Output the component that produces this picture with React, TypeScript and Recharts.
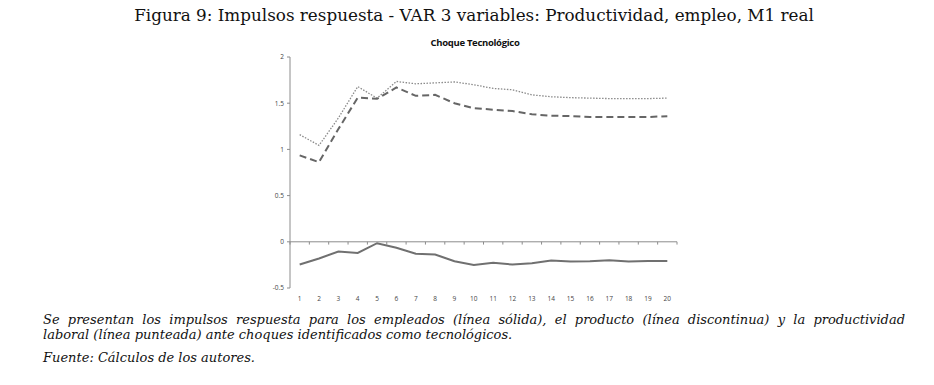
import { LineChart, Line, XAxis, YAxis, ReferenceLine } from "recharts";

const periods = [1, 2, 3, 4, 5, 6, 7, 8, 9, 10, 11, 12, 13, 14, 15, 16, 17, 18, 19, 20];
const empleo = [-0.246, -0.18, -0.105, -0.12, -0.015, -0.065, -0.13, -0.137, -0.21, -0.25, -0.228, -0.246, -0.232, -0.203, -0.213, -0.21, -0.2, -0.213, -0.207, -0.207];
const producto = [0.935, 0.862, 1.22, 1.56, 1.547, 1.67, 1.58, 1.59, 1.5, 1.446, 1.43, 1.415, 1.38, 1.365, 1.36, 1.35, 1.35, 1.35, 1.35, 1.36];
const productividad = [1.16, 1.043, 1.34, 1.68, 1.554, 1.735, 1.71, 1.72, 1.73, 1.7, 1.66, 1.645, 1.59, 1.57, 1.56, 1.555, 1.55, 1.55, 1.55, 1.555];
const yTicks = [-0.5, 0, 0.5, 1, 1.5, 2];
const boundaries = [0.5, 1.5, 2.5, 3.5, 4.5, 5.5, 6.5, 7.5, 8.5, 9.5, 10.5, 11.5, 12.5, 13.5, 14.5, 15.5, 16.5, 17.5, 18.5, 19.5, 20.5];

const data = periods.map((p, i) => ({
  p,
  empleo: empleo[i],
  producto: producto[i],
  productividad: productividad[i],
}));

const axisColor = "#8c8c8c";
const tickStyle = { fontSize: 6.5, fill: "#444", fontFamily: "'Open Sans', sans-serif" };
const serif = "'DejaVu Serif', serif";

export default function App() {
  return (
    <div style={{ position: "relative", width: 934, height: 385, background: "#fff" }}>
      <style>{"body{margin:0}"}</style>
      <div
        style={{
          position: "absolute",
          top: 5,
          left: 0,
          width: 948,
          textAlign: "center",
          fontFamily: serif,
          fontSize: 16.8,
          color: "#111",
          whiteSpace: "nowrap",
        }}
      >
        Figura 9: Impulsos respuesta - VAR 3 variables: Productividad, empleo, M1 real
      </div>
      <div
        style={{
          position: "absolute",
          top: 36,
          left: 0,
          width: 950,
          textAlign: "center",
          fontFamily: "'Open Sans', sans-serif",
          fontWeight: 700,
          fontSize: 9.5,
          letterSpacing: -0.3,
          color: "#111",
        }}
      >
        Choque Tecnológico
      </div>
      <div style={{ position: "absolute", left: 250, top: 45 }}>
        <LineChart width={440} height={263} data={data} margin={{ top: 12, right: 13, bottom: 0, left: 0 }}>
          <XAxis
            dataKey="p"
            type="number"
            domain={[0.5, 20.5]}
            ticks={periods}
            axisLine={false}
            tickLine={false}
            tickMargin={2}
            height={20}
            tick={tickStyle}
            interval={0}
          />
          <YAxis
            domain={[-0.5, 2]}
            ticks={yTicks}
            width={40}
            stroke={axisColor}
            tickSize={3}
            tick={tickStyle}
            tickMargin={3}
          />
          <ReferenceLine y={0} stroke={axisColor} strokeWidth={1} />
          {boundaries.map((b) => (
            <ReferenceLine
              key={b}
              segment={[
                { x: b, y: 0 },
                { x: b, y: -0.03 },
              ]}
              stroke={axisColor}
              strokeWidth={1}
            />
          ))}
          <Line
            dataKey="productividad"
            stroke="#8a8a8a"
            strokeWidth={1.3}
            strokeDasharray="1.5 1.5"
            dot={false}
            isAnimationActive={false}
          />
          <Line
            dataKey="producto"
            stroke="#666"
            strokeWidth={2}
            strokeDasharray="7 4"
            dot={false}
            isAnimationActive={false}
          />
          <Line dataKey="empleo" stroke="#707070" strokeWidth={2} dot={false} isAnimationActive={false} />
        </LineChart>
      </div>
      <div
        style={{
          position: "absolute",
          left: 43,
          top: 312,
          width: 862,
          fontFamily: serif,
          fontStyle: "italic",
          fontSize: 13,
          lineHeight: "15px",
          color: "#111",
        }}
      >
        <div style={{ textAlign: "justify", textAlignLast: "justify", whiteSpace: "nowrap" }}>
          Se presentan los impulsos respuesta para los empleados (línea sólida), el producto (línea discontinua) y la productividad
        </div>
        <div>laboral (línea punteada) ante choques identificados como tecnológicos.</div>
        <div style={{ marginTop: 8 }}>Fuente: Cálculos de los autores.</div>
      </div>
    </div>
  );
}
